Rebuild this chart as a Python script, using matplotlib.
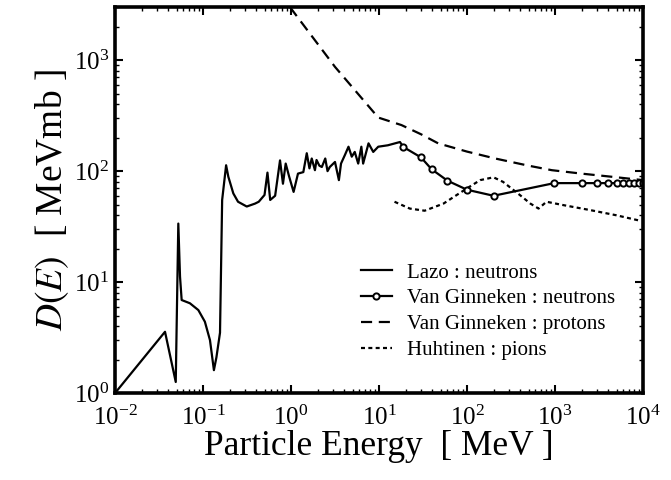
import matplotlib
matplotlib.use("Agg")
import matplotlib.pyplot as plt

plt.rcParams['font.family'] = ['Liberation Serif', 'DejaVu Serif']
plt.rcParams['mathtext.fontset'] = 'stix'

# Lazo : neutrons
lazo_e = [0.01, 0.037, 0.049, 0.0524, 0.0548, 0.0572, 0.071, 0.0885, 0.105, 0.120, 0.133,
          0.142, 0.156, 0.165, 0.183, 0.194, 0.221, 0.25, 0.314, 0.39, 0.43, 0.50, 0.54,
          0.58, 0.66, 0.75, 0.81, 0.87, 0.95, 1.07, 1.2, 1.38, 1.51, 1.62, 1.72, 1.87,
          1.95, 2.1, 2.24, 2.45, 2.6, 2.76, 3.16, 3.5, 3.7, 4.1, 4.5, 4.9, 5.3, 5.8, 6.3,
          6.6, 7.6, 8.6, 9.8, 12.6, 17.3, 18.9]
lazo_d = [1.0, 3.57, 1.26, 33.7, 11.2, 6.9, 6.45, 5.6, 4.4, 3.0, 1.61,
          2.1, 3.5, 55, 113, 89, 63, 53, 48, 51, 53, 61, 97,
          55, 60, 125, 77, 117, 90, 65, 95, 98, 145, 106, 130, 102,
          126, 112, 109, 130, 100, 109, 121, 83, 117, 140, 166, 135, 149, 117, 166,
          117, 178, 149, 166, 171, 183, 165]

# Van Ginneken : neutrons
vgn_e = [18.9, 30, 39.6, 60, 100, 200, 980, 2000, 3000, 4000, 5000, 6000, 7000, 8000, 9000, 10000]
vgn_d = [165, 133, 104, 82, 68, 60, 78, 78, 78, 78, 78, 78, 78, 78, 78, 78]

# Van Ginneken : protons
vgp_e = [0.975, 3.16, 9.8, 18, 30, 47, 100, 209, 500, 920, 2000, 4400, 10000]
vgp_d = [3000, 870, 304, 260, 215, 178, 150, 130, 112, 102, 95, 89, 83]

# Huhtinen : pions
huh_e = [15, 22.4, 33, 54, 100, 141, 200, 257, 398, 525, 650, 800, 1230, 2500, 5000, 8900]
huh_d = [53, 46, 44, 51, 70, 83, 88, 80, 61, 51, 46, 53, 49.5, 44.6, 40, 36]

fig = plt.figure(figsize=(6.71, 4.8), dpi=100)
ax = fig.add_axes([0.1714, 0.181, 0.7869, 0.804])

ax.plot(lazo_e, lazo_d, color='black', lw=1.6, label='Lazo : neutrons')
ax.plot(vgn_e, vgn_d, color='black', lw=1.6, marker='o', ms=4.5, mfc='white',
        mec='black', mew=1.4, label='Van Ginneken : neutrons')
ax.plot(vgp_e, vgp_d, color='black', lw=1.6, ls=(0, (5, 3)), label='Van Ginneken : protons')
ax.plot(huh_e, huh_d, color='black', lw=1.6, ls=(0, (1.8, 1.5)), label='Huhtinen : pions')

ax.set_xscale('log')
ax.set_yscale('log')
ax.set_xlim(1e-2, 1e4)
ax.set_ylim(1, 3000)

for s in ax.spines.values():
    s.set_linewidth(2.6)
ax.tick_params(which='both', direction='in', top=True, right=True, labelsize=18)
ax.tick_params(which='major', length=6, width=1.5, pad=4)
ax.tick_params(axis='x', which='major', pad=9)
ax.tick_params(which='minor', length=3, width=1.0)

ax.set_xlabel('Particle Energy  [ MeV ]', fontsize=25.5, labelpad=0)
ax.set_ylabel('$D(E)$  [ MeVmb ]', fontsize=27, labelpad=2)

ax.legend(loc='upper left', bbox_to_anchor=(0.439, 0.375), frameon=False, fontsize=15,
          handlelength=1.45, handletextpad=0.75, labelspacing=0.3, borderpad=0.2)

fig.savefig('out.png', dpi=100)
